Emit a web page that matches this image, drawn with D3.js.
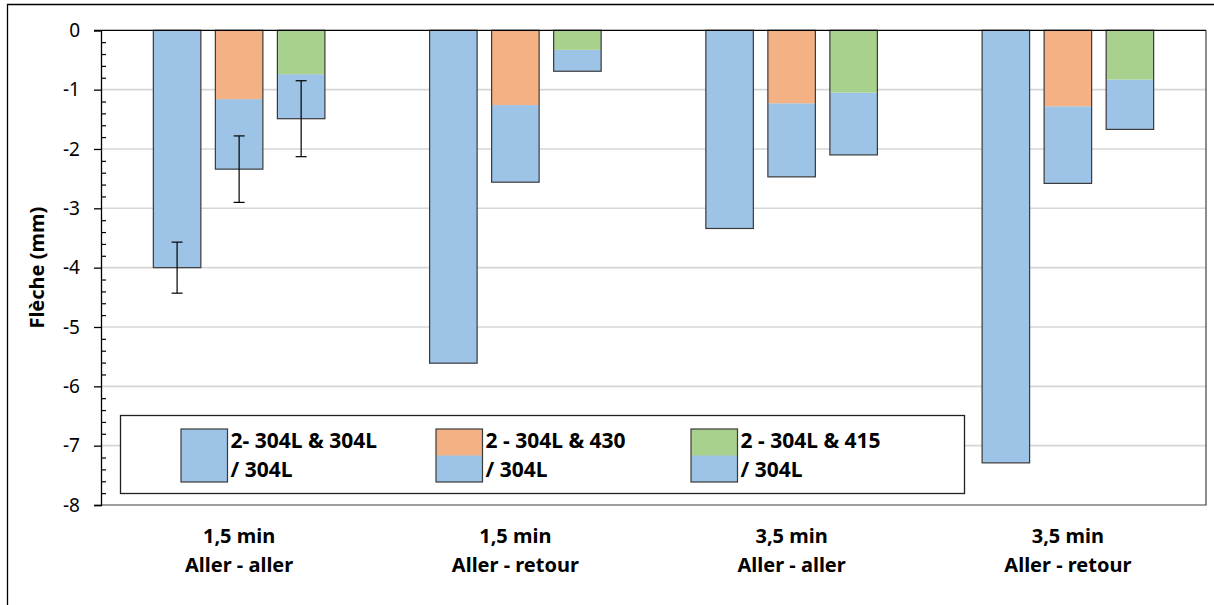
<!DOCTYPE html>
<html>
<head>
<meta charset="utf-8">
<script src="https://d3js.org/d3.v7.min.js"></script>
<style>
  html, body { margin: 0; padding: 0; background: #fff; overflow: hidden; }
  svg { display: block; }
</style>
</head>
<body>
<script>
// ---------- data ----------
const catLine1 = ["1,5 min", "1,5 min", "3,5 min", "3,5 min"];
const catLine2 = ["Aller - aller", "Aller - retour", "Aller - aller", "Aller - retour"];
const seriesKeys = ["s304", "s430", "s415"];
const legendLine1 = ["2- 304L & 304L", "2 - 304L & 430", "2 - 304L & 415"];
const legendLine2 = ["/ 304L", "/ 304L", "/ 304L"];
// total deflection (mm) of each bilayer
const total304 = [-4.00, -5.61, -3.34, -7.29];
const total430 = [-2.34, -2.56, -2.47, -2.58];
const total415 = [-1.49, -0.69, -2.10, -1.67];
// upper-layer part of the stacked bars
const top430 = [-1.16, -1.26, -1.23, -1.28];
const top415 = [-0.74, -0.33, -1.05, -0.83];
// error bars (± mm), only measured for the first condition
const err304 = [0.43, null, null, null];
const err430 = [0.56, null, null, null];
const err415 = [0.64, null, null, null];
const yTicks = [0, -1, -2, -3, -4, -5, -6, -7, -8];
const yTitle = "Flèche (mm)";

const colors = { blue: "#9dc3e6", orange: "#f4b183", green: "#a9d18e" };
const topColor = { s304: null, s430: colors.orange, s415: colors.green };
const FONT = "'Noto Sans', 'Open Sans', 'Liberation Sans', sans-serif";

// ---------- layout ----------
const W = 1214, H = 605;
const plot = { left: 101, right: 1206, top: 30.3, bottom: 505 };

const svg = d3.select("body").append("svg").attr("width", W).attr("height", H)
  .attr("font-family", FONT);

// outer frame (only top and left edges visible)
svg.append("path").attr("d", `M7.5,${H}V4.5H${W}`)
  .attr("fill", "none").attr("stroke", "#000").attr("stroke-width", 1.3);

const x0 = d3.scaleBand().domain(d3.range(catLine1.length)).range([plot.left, plot.right]).padding(0);
const innerWidth = x0.bandwidth() * 0.621;
const x1 = d3.scaleBand().domain(seriesKeys).range([0, innerWidth]).paddingInner(0.234).paddingOuter(0);
const y = d3.scaleLinear().domain([-8, 0]).range([plot.bottom, plot.top]);

// gridlines
svg.append("g").selectAll("line").data(yTicks.filter(d => d !== 0 && d !== -8)).join("line")
  .attr("x1", plot.left).attr("x2", plot.right)
  .attr("y1", d => y(d)).attr("y2", d => y(d))
  .attr("stroke", "#d6d6d6").attr("stroke-width", 1.6);

// plot border (right & bottom)
svg.append("path")
  .attr("d", `M${plot.left},${y(-8)}H${plot.right}V${y(0)}`)
  .attr("fill", "none").attr("stroke", "#404040").attr("stroke-width", 1.2);

// bars
const rows = [];
catLine1.forEach((c, i) => {
  rows.push({ i, key: "s304", total: total304[i], top: null, err: err304[i] });
  rows.push({ i, key: "s430", total: total430[i], top: top430[i], err: err430[i] });
  rows.push({ i, key: "s415", total: total415[i], top: top415[i], err: err415[i] });
});
const bx = d => x0(d.i) + (x0.bandwidth() - innerWidth) / 2 + x1(d.key);

const gBars = svg.append("g");
rows.forEach(d => {
  const g = gBars.append("g");
  const xx = bx(d);
  const bw = x1.bandwidth();
  const blueTop = d.top == null ? 0 : d.top;
  g.append("rect").attr("x", xx).attr("width", bw)
    .attr("y", y(blueTop)).attr("height", y(d.total) - y(blueTop))
    .attr("fill", colors.blue);
  if (d.top != null) {
    g.append("rect").attr("x", xx).attr("width", bw)
      .attr("y", y(0)).attr("height", y(d.top) - y(0))
      .attr("fill", topColor[d.key]);
  }
  g.append("rect").attr("x", xx).attr("width", bw)
    .attr("y", y(0)).attr("height", y(d.total) - y(0))
    .attr("fill", "none").attr("stroke", "#3a3a3a").attr("stroke-width", 1.2);
  if (d.err != null) {
    const cx = xx + bw / 2;
    const eg = g.append("g").attr("stroke", "#000").attr("stroke-width", 1.2);
    eg.append("line").attr("x1", cx).attr("x2", cx).attr("y1", y(d.total + d.err)).attr("y2", y(d.total - d.err));
    [d.total + d.err, d.total - d.err].forEach(v => {
      eg.append("line").attr("x1", cx - 5.5).attr("x2", cx + 5.5).attr("y1", y(v)).attr("y2", y(v));
    });
  }
});

// y axis (major ticks outward)
const yAxis = svg.append("g").attr("transform", `translate(${plot.left},0)`)
  .call(d3.axisLeft(y).tickValues(yTicks).tickSize(7).tickPadding(14).tickFormat(d => String(d)))
  .attr("font-family", FONT).attr("font-size", 19);
yAxis.select(".domain").attr("stroke", "#000").attr("stroke-width", 1.3);
yAxis.selectAll(".tick line").attr("stroke", "#000").attr("stroke-width", 1.3);
yAxis.selectAll(".tick text").attr("fill", "#000");

// minor ticks (inside)
const minor = d3.range(-40, 0).map(v => v / 5).filter(v => Math.abs(v - Math.round(v)) > 1e-6);
const yMinor = svg.append("g").attr("transform", `translate(${plot.left},0)`)
  .call(d3.axisRight(y).tickValues(minor).tickSize(5).tickFormat(""));
yMinor.select(".domain").remove();
yMinor.selectAll(".tick line").attr("stroke", "#000").attr("stroke-width", 1.2);

// zero line (category axis at top)
svg.append("line").attr("x1", plot.left - 7).attr("x2", plot.right)
  .attr("y1", y(0)).attr("y2", y(0)).attr("stroke", "#000").attr("stroke-width", 1.3);

// y title
svg.append("text")
  .attr("transform", `translate(44,${(plot.top + plot.bottom) / 2}) rotate(-90)`)
  .attr("text-anchor", "middle")
  .attr("font-size", 20).attr("font-weight", "bold").attr("fill", "#000")
  .text(yTitle);

// category labels
const gCat = svg.append("g").attr("font-size", 20).attr("font-weight", "bold").attr("fill", "#000")
  .attr("text-anchor", "middle");
gCat.selectAll("text.l1").data(catLine1).join("text").attr("class", "l1")
  .attr("x", (d, i) => x0(i) + x0.bandwidth() / 2).attr("y", 542.5).text(d => d);
gCat.selectAll("text.l2").data(catLine2).join("text").attr("class", "l2")
  .attr("x", (d, i) => x0(i) + x0.bandwidth() / 2).attr("y", 571.5).text(d => d);

// legend
const leg = svg.append("g");
leg.append("rect").attr("x", 120.5).attr("y", 415.5).attr("width", 844).attr("height", 78)
  .attr("fill", "#fff").attr("stroke", "#202020").attr("stroke-width", 1.3);
const legX = d3.scalePoint().domain(seriesKeys).range([181, 691]);
seriesKeys.forEach((k, j) => {
  const lx = legX(k), ly = 429, sw = 46.5, sh = 53;
  leg.append("rect").attr("x", lx).attr("y", ly).attr("width", sw).attr("height", sh).attr("fill", colors.blue);
  if (topColor[k]) {
    leg.append("rect").attr("x", lx).attr("y", ly).attr("width", sw).attr("height", sh / 2).attr("fill", topColor[k]);
  }
  leg.append("rect").attr("x", lx).attr("y", ly).attr("width", sw).attr("height", sh)
    .attr("fill", "none").attr("stroke", "#3a3a3a").attr("stroke-width", 1.2);
  leg.append("text").attr("x", lx + sw + 3).attr("y", 447.5)
    .attr("font-size", 21).attr("font-weight", "bold").attr("fill", "#000").text(legendLine1[j]);
  leg.append("text").attr("x", lx + sw + 3).attr("y", 477)
    .attr("font-size", 21).attr("font-weight", "bold").attr("fill", "#000").text(legendLine2[j]);
});
</script>
</body>
</html>
